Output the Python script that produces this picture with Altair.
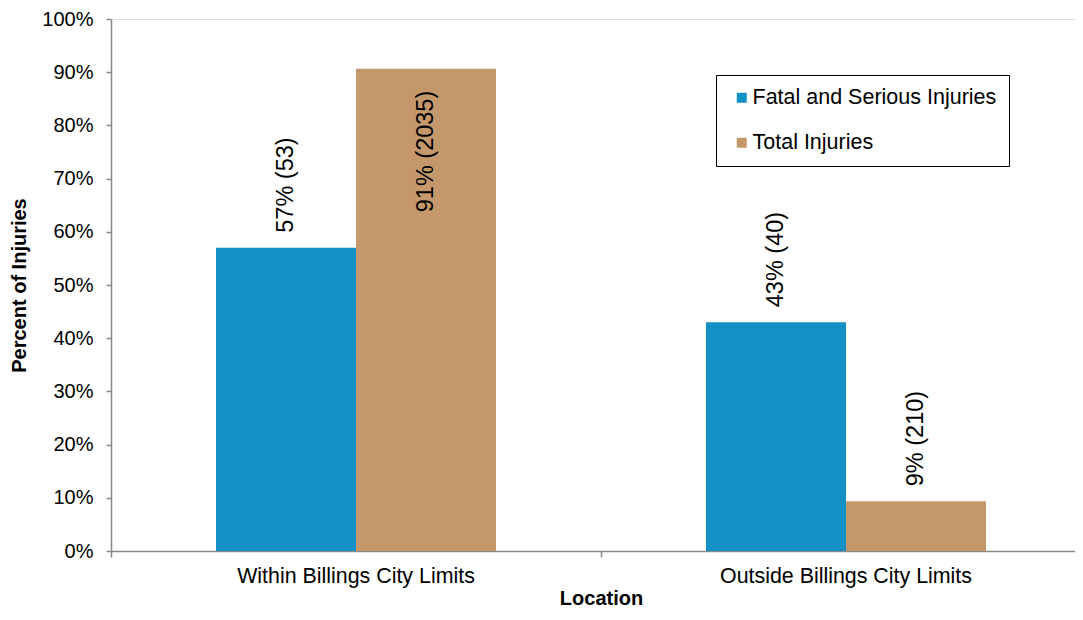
import altair as alt
import pandas as pd

locations = ["Within Billings City Limits", "Outside Billings City Limits"]
series = ["Fatal and Serious Injuries", "Total Injuries"]
fatal_pct = [57.0, 43.0]
fatal_count = [53, 40]
total_pct = [90.65, 9.35]
total_count = [2035, 210]

rows = []
for i, loc in enumerate(locations):
    rows.append({"Location": loc, "Series": series[0], "Value": fatal_pct[i] / 100,
                 "Label": f"{round(fatal_pct[i])}% ({fatal_count[i]})", "Inside": False})
    rows.append({"Location": loc, "Series": series[1], "Value": total_pct[i] / 100,
                 "Label": f"{round(total_pct[i])}% ({total_count[i]})",
                 "Inside": (i == 0)})
df = pd.DataFrame(rows)

FONT = "Liberation Sans"
colors = ["#1390C6", "#C4986B"]

x_scale = alt.Scale(domain=locations, paddingInner=0, paddingOuter=0, range=[0, 980])
x_enc = alt.X("Location:N", sort=locations, scale=x_scale,
              axis=alt.Axis(title="Location", labelAngle=0, bandPosition=0,
                            labelFontSize=21.4, labelFont=FONT, labelColor="black", labelLimit=500,
                            labelPadding=8, tickSize=6, tickColor="#898989",
                            domainColor="#898989", domainWidth=1.5, tickWidth=1.5,
                            titleFont=FONT, titleFontSize=20, titleFontWeight="bold",
                            titleColor="black", titlePadding=2))
xoff = alt.XOffset("Series:N", sort=series, scale=alt.Scale(paddingInner=0, paddingOuter=0.75))
y_enc = alt.Y("Value:Q", scale=alt.Scale(domain=[0, 1], nice=False),
              axis=alt.Axis(title="Percent of Injuries", format=".0%", values=[i / 10 for i in range(11)],
                            grid=False, labelFontSize=20, labelFont=FONT, labelColor="black",
                            labelPadding=13, tickSize=5, tickColor="#898989", tickWidth=1.5,
                            domainColor="#898989", domainWidth=1.5,
                            titleFont=FONT, titleFontSize=20, titleFontWeight="bold",
                            titleColor="black", titlePadding=12))

base = alt.Chart(df)

bars = base.mark_bar().encode(
    x=x_enc, xOffset=xoff, y=y_enc,
    color=alt.Color("Series:N", sort=series,
                    scale=alt.Scale(domain=series, range=colors),
                    legend=alt.Legend(title=None, orient="none", legendX=605, legendY=56,
                                      symbolType="square", symbolSize=100, symbolStrokeWidth=0,
                                      labelFont=FONT, labelFontSize=21.5, labelColor="black",
                                      labelOffset=0, rowPadding=22, padding=12, symbolOffset=3,
                                      strokeColor="black", fillColor="white", labelLimit=400))
)

text_out = base.transform_filter("datum.Inside == false").mark_text(
    angle=270, align="left", baseline="middle", dx=15, fontSize=23.5, font=FONT, color="black"
).encode(x=alt.X("Location:N", sort=locations, scale=x_scale), xOffset=alt.XOffset("Series:N", sort=series),
         y="Value:Q", text="Label:N")

text_in = base.transform_filter("datum.Inside == true").mark_text(
    angle=270, align="right", baseline="middle", dx=-22, fontSize=23.5, font=FONT, color="black"
).encode(x=alt.X("Location:N", sort=locations, scale=x_scale), xOffset=alt.XOffset("Series:N", sort=series),
         y="Value:Q", text="Label:N")

chart = alt.layer(bars, text_out, text_in).properties(
    width=964, height=532,
    autosize=alt.AutoSizeParams(type="none"),
    padding={"left": 103, "top": 11, "right": 0, "bottom": 60},
).configure_view(stroke=None).configure(background="white")

chart.save("out.html", embed_options={"renderer": "svg", "actions": False})
